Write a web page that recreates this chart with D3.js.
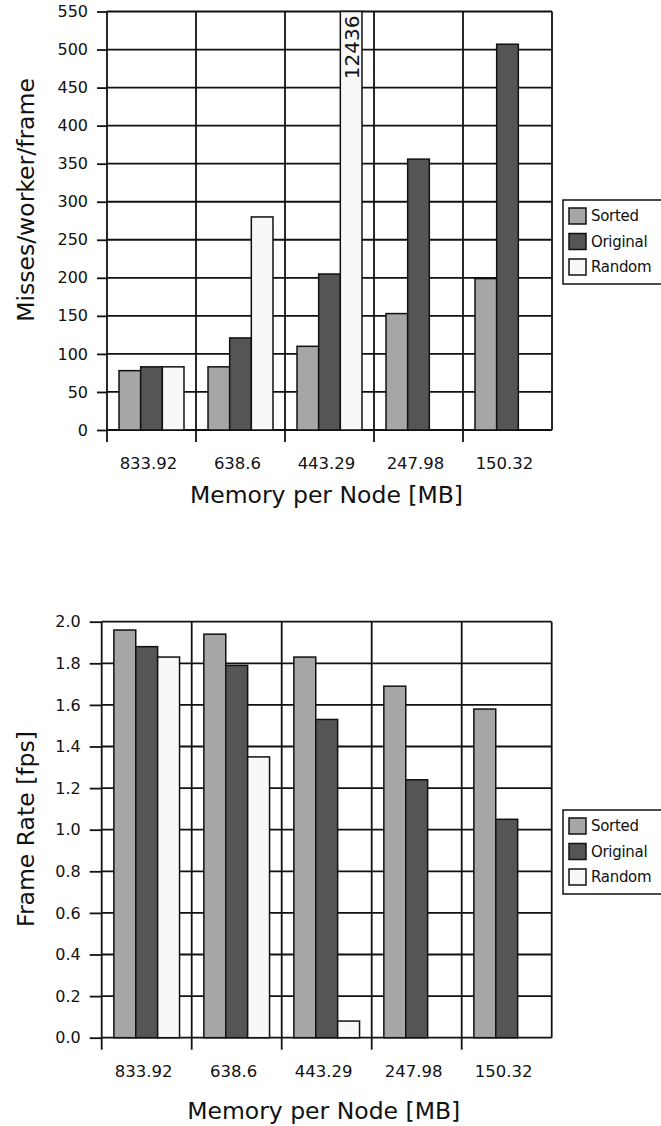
<!DOCTYPE html>
<html>
<head>
<meta charset="utf-8">
<script src="https://cdn.jsdelivr.net/npm/d3@7"></script>
<style>
  body { margin: 0; background: #fff; }
  text { font-family: "DejaVu Sans", sans-serif; fill: #111; }
</style>
</head>
<body>
<div id="chart-area"></div>
<script>
// data
var categories = ["833.92", "638.6", "443.29", "247.98", "150.32"];
var seriesNames = ["Sorted", "Original", "Random"];
var seriesColors = ["#a6a6a6", "#555555", "#f8f8f8"];

var missesSorted = [78, 83, 110, 153, 199];
var missesOriginal = [83, 121, 205, 356, 507];
var missesRandom = [83, 280, 12436, null, null];
var missesTicks = [0, 50, 100, 150, 200, 250, 300, 350, 400, 450, 500, 550];

var fpsSorted = [1.96, 1.94, 1.83, 1.69, 1.58];
var fpsOriginal = [1.88, 1.79, 1.53, 1.24, 1.05];
var fpsRandom = [1.83, 1.35, 0.08, null, null];
var fpsTicks = [0, 0.2, 0.4, 0.6, 0.8, 1.0, 1.2, 1.4, 1.6, 1.8, 2.0];

var svg = d3.select("#chart-area").append("svg")
    .attr("width", 661)
    .attr("height", 1126);

function drawChart(opt) {
    var width = opt.right - opt.left;
    var height = opt.bottom - opt.top;
    var g = svg.append("g")
        .attr("transform", "translate(" + opt.left + "," + opt.top + ")");

    var x = d3.scaleBand()
        .domain(categories)
        .range([0, width]);
    var bw = x.bandwidth();
    var x1 = d3.scaleBand()
        .domain(seriesNames)
        .range([bw * 0.135, bw * 0.865]);
    var y = d3.scaleLinear()
        .domain([0, opt.ticks[opt.ticks.length - 1]])
        .range([height, 0])
        .clamp(true);

    // horizontal grid
    g.selectAll(".hgrid")
        .data(opt.ticks)
        .enter().append("line")
        .attr("x1", 0).attr("x2", width)
        .attr("y1", (d) => y(d)).attr("y2", (d) => y(d))
        .attr("stroke", "#111")
        .attr("stroke-width", 1.8);
    // vertical grid at category boundaries
    var bounds = categories.map((c) => x(c)).concat([width]);
    g.selectAll(".vgrid")
        .data(bounds)
        .enter().append("line")
        .attr("x1", (d) => d).attr("x2", (d) => d)
        .attr("y1", 0).attr("y2", height)
        .attr("stroke", "#111")
        .attr("stroke-width", 1.8);

    // bars
    var rows = [];
    categories.forEach((c, i) => {
        opt.values.forEach((vals, s) => {
            if (vals[i] != null) rows.push({cat: c, s: s, v: vals[i]});
        });
    });
    g.selectAll("rect.bar")
        .data(rows)
        .enter().append("rect")
        .attr("class", "bar")
        .attr("x", (d) => x(d.cat) + x1(seriesNames[d.s]))
        .attr("y", (d) => y(d.v))
        .attr("width", x1.bandwidth())
        .attr("height", (d) => height - y(d.v))
        .attr("fill", (d) => seriesColors[d.s])
        .attr("stroke", "#111")
        .attr("stroke-width", 1.5);

    // value label for bars beyond the scale
    g.selectAll(".over")
        .data(rows.filter((d) => d.v > y.domain()[1]))
        .enter().append("text")
        .attr("transform", (d) => "translate(" +
            (x(d.cat) + x1(seriesNames[d.s]) + x1.bandwidth() - 3) + ",4) rotate(-90)")
        .attr("text-anchor", "end")
        .attr("font-size", "20px")
        .text((d) => d.v);

    // y axis
    var yAxis = d3.axisLeft(y)
        .tickValues(opt.ticks)
        .tickSize(opt.tickLen)
        .tickPadding(9)
        .tickFormat(opt.format);
    var ya = g.append("g").call(yAxis);
    ya.select(".domain").remove();
    ya.selectAll("line").attr("stroke", "#111").attr("stroke-width", 1.8);
    ya.selectAll("text").attr("font-size", "16px").attr("fill", "#111");

    // x axis: ticks at boundaries, labels centred
    g.selectAll(".xtick")
        .data(categories)
        .enter().append("line")
        .attr("x1", (d) => x(d)).attr("x2", (d) => x(d))
        .attr("y1", height).attr("y2", height + 12)
        .attr("stroke", "#111")
        .attr("stroke-width", 1.8);
    g.selectAll(".xlabel")
        .data(categories)
        .enter().append("text")
        .attr("x", (d) => x(d) + bw / 2 - 3)
        .attr("y", height + 39)
        .attr("text-anchor", "middle")
        .attr("font-size", "16.5px")
        .text((d) => d);

    // axis titles
    g.append("text")
        .attr("x", width / 2 - 3)
        .attr("y", height + opt.xTitleDy)
        .attr("text-anchor", "middle")
        .attr("font-size", "23.5px")
        .text("Memory per Node [MB]");
    g.append("text")
        .attr("transform", "translate(" + (34 - opt.left) + "," + opt.yTitleY + ") rotate(-90)")
        .attr("text-anchor", "middle")
        .attr("font-size", "23.5px")
        .text(opt.yTitle);

    // legend
    var lg = svg.append("g")
        .attr("transform", "translate(563," + opt.legendY + ")");
    lg.append("rect")
        .attr("x", 0).attr("y", 0)
        .attr("width", 110).attr("height", 84)
        .attr("fill", "#fff")
        .attr("stroke", "#111")
        .attr("stroke-width", 1.5);
    seriesNames.forEach((name, i) => {
        lg.append("rect")
            .attr("x", 6).attr("y", 8 + i * 25.5)
            .attr("width", 17).attr("height", 16)
            .attr("fill", seriesColors[i])
            .attr("stroke", "#111")
            .attr("stroke-width", 1.5);
        lg.append("text")
            .attr("x", 28).attr("y", 16 + i * 25.5)
            .attr("dy", "0.35em")
            .attr("font-size", "15px")
            .attr("letter-spacing", "-0.3px")
            .text(name);
    });
}

drawChart({
    left: 107, right: 552, top: 11.5, bottom: 430,
    ticks: missesTicks,
    values: [missesSorted, missesOriginal, missesRandom],
    format: (d) => d,
    tickLen: 10,
    xTitleDy: 73,
    yTitle: "Misses/worker/frame",
    yTitleY: 200 - 11.5,
    legendY: 200
});

drawChart({
    left: 101.7, right: 551.7, top: 621.7, bottom: 1037.7,
    ticks: fpsTicks,
    values: [fpsSorted, fpsOriginal, fpsRandom],
    format: d3.format(".1f"),
    tickLen: 12,
    xTitleDy: 81,
    yTitle: "Frame Rate [fps]",
    yTitleY: 829 - 621.7,
    legendY: 810
});
</script>
</body>
</html>
